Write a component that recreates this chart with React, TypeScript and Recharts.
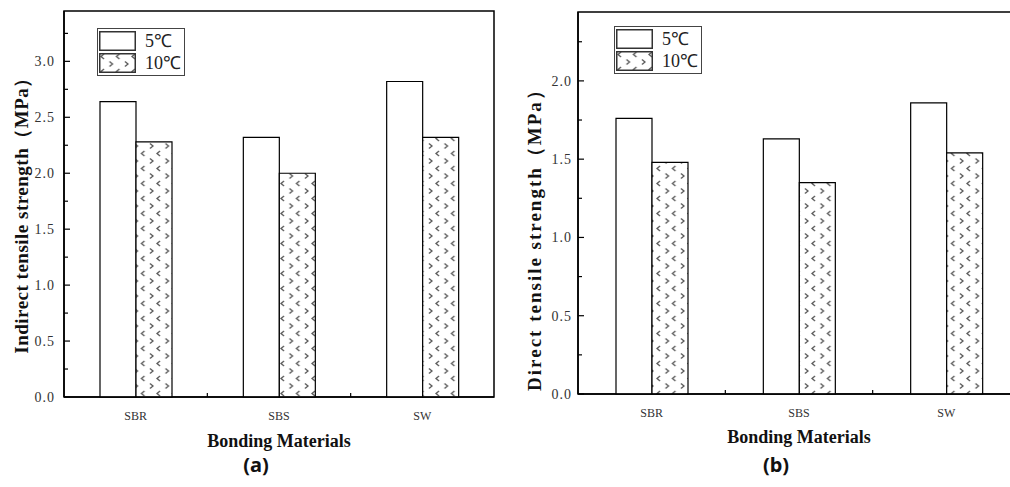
import React from 'react';
import { BarChart, Bar, XAxis, YAxis, Legend, ReferenceArea, Label } from 'recharts';

const categories = ['SBR', 'SBS', 'SW'];
const seriesNames = ['5℃', '10℃'];
const indirect5 = [2.64, 2.32, 2.82];
const indirect10 = [2.28, 2.0, 2.32];
const direct5 = [1.76, 1.63, 1.86];
const direct10 = [1.48, 1.35, 1.54];
const ticksA = [0, 0.25, 0.5, 0.75, 1.0, 1.25, 1.5, 1.75, 2.0, 2.25, 2.5, 2.75, 3.0, 3.25];
const ticksB = [0, 0.25, 0.5, 0.75, 1.0, 1.25, 1.5, 1.75, 2.0, 2.25];
const maxA = 3.45;
const maxB = 2.44;

const dataA = categories.map((name, i) => ({ name, t5: indirect5[i], t10: indirect10[i] }));
const dataB = categories.map((name, i) => ({ name, t5: direct5[i], t10: direct10[i] }));

const SERIF = '"Liberation Serif", "Times New Roman", serif';
const TICKFONT = '"Liberation Serif", serif';

const PatternDef = ({ id }: { id: string }) => (
  <pattern id={id} patternUnits="userSpaceOnUse" width={15.5} height={15} x={0} y={0}>
    <rect x={0} y={0} width={15.5} height={15} fill="#fff" />
    <polyline points="5,1 2,3.5 5,6" fill="none" stroke="#555" strokeWidth={1.3} />
    <polyline points="10.5,8.5 13.5,11 10.5,13.5" fill="none" stroke="#555" strokeWidth={1.3} />
  </pattern>
);

const makeYTick = (margin: number) => (props: any) => {
  const { x, y, payload } = props;
  const v = Number(payload.value);
  const major = Math.abs(v * 2 - Math.round(v * 2)) < 1e-6;
  const ax = x + margin;
  return (
    <g>
      <line x1={ax} x2={ax + (major ? 6 : 4)} y1={y} y2={y} stroke="#000" strokeWidth={1.2} />
      {major && (
        <text x={x} y={y} dy="0.36em" textAnchor="end" fontFamily={TICKFONT} fontSize={14} fill="#333" letterSpacing={1}>
          {v.toFixed(1)}
        </text>
      )}
    </g>
  );
};

const makeXTick = (margin: number) => (props: any) => {
  const { x, y, payload, index, width, visibleTicksCount } = props;
  const n = visibleTicksCount || categories.length;
  const band = Number(width) / n;
  const ay = y - margin;
  const xb = x + band / 2;
  return (
    <g>
      {index < n - 1 && <line x1={xb} x2={xb} y1={ay} y2={ay - 4} stroke="#000" strokeWidth={1.2} />}
      <text x={x} y={y} dy="0.71em" textAnchor="middle" fontFamily={TICKFONT} fontSize={12} fill="#333">
        {payload.value}
      </text>
    </g>
  );
};

const LegendBox = ({ pid, textLeft }: { pid: string; textLeft: number }) => (
  <div style={{ border: '1.5px solid #444', padding: '2px 3px 2px 1px', background: '#fff', display: 'inline-block', lineHeight: 1 }}>
    {seriesNames.map((s, i) => (
      <div key={s} style={{ display: 'flex', alignItems: 'center', height: 20, marginBottom: i === 0 ? 1.5 : 0 }}>
        <svg width={37} height={20} style={{ display: 'block' }}>
          {i === 1 && (
            <defs>
              <PatternDef id={pid} />
            </defs>
          )}
          <rect x={0.75} y={0.75} width={35.5} height={18.5} fill={i === 0 ? '#fff' : `url(#${pid})`} stroke="#333" strokeWidth={1.5} />
        </svg>
        <span style={{ marginLeft: textLeft, fontFamily: SERIF, fontSize: 18, color: '#222' }}>{s}</span>
      </div>
    ))}
  </div>
);

const yTitle = (text: string, bx: number, cy: number, ls: number) => (props: any) => {
  const vb = props.viewBox;
  const x = vb.x + bx;
  const y = vb.y + vb.height / 2 + cy;
  return (
    <text x={x} y={y} transform={`rotate(-90, ${x}, ${y})`} textAnchor="middle" fontFamily={SERIF} fontWeight="bold" fontSize={19} letterSpacing={ls} fill="#111">
      {text}
    </text>
  );
};

const xTitle = (caption: string, dy: number, capDy: number) => (props: any) => {
  const vb = props.viewBox;
  const cx = vb.x + vb.width / 2;
  return (
    <g>
      <text x={cx} y={vb.y + dy} textAnchor="middle" fontFamily={SERIF} fontWeight="bold" fontSize={18} fill="#111">
        Bonding Materials
      </text>
      <text x={cx - 23} y={vb.y + capDy} textAnchor="middle" fontFamily='"Noto Sans", sans-serif' fontWeight="bold" fontSize={20} fill="#111">
        {caption}
      </text>
    </g>
  );
};

const Panel = ({ data, pid, max, ticks, yLabel, caption, width, margin, yWidth, xHeight, tickMargin, legendPos, textLeft, ylx, yly, yls, xdy, capdy }: any) => (
  <BarChart width={width} height={487} data={data} margin={margin} barGap={0} barSize={36}>
    <defs>
      <PatternDef id={pid} />
    </defs>
    <XAxis
      dataKey="name"
      height={xHeight}
      tickLine={false}
      tickSize={0}
      tickMargin={14}
      interval={0}
      axisLine={{ stroke: '#000', strokeWidth: 1.5 }}
      tick={makeXTick(14)}
    >
      <Label content={xTitle(caption, xdy, capdy)} />
    </XAxis>
    <YAxis
      type="number"
      domain={[0, max]}
      ticks={ticks}
      interval={0}
      width={yWidth}
      tickLine={false}
      tickSize={0}
      tickMargin={tickMargin}
      axisLine={{ stroke: '#000', strokeWidth: 1.5 }}
      tick={makeYTick(tickMargin)}
    >
      <Label content={yTitle(yLabel, ylx, yly, yls)} />
    </YAxis>
    <Legend
      layout="vertical"
      align="center"
      verticalAlign="middle"
      wrapperStyle={{ left: legendPos[0], top: legendPos[1], width: 'auto', height: 'auto' }}
      content={() => <LegendBox pid={pid + 'L'} textLeft={textLeft} />}
    />
    <Bar dataKey="t5" name={seriesNames[0]} fill="#fff" stroke="#000" strokeWidth={1.2} isAnimationActive={false} />
    <Bar dataKey="t10" name={seriesNames[1]} fill={`url(#${pid})`} stroke="#000" strokeWidth={1.2} isAnimationActive={false} />
    <ReferenceArea y1={0} y2={max} fill="none" stroke="#000" strokeWidth={1.5} />
  </BarChart>
);

export default function App() {
  return (
    <div style={{ position: 'absolute', left: 0, top: 0, width: 1010, height: 487, overflow: 'hidden', background: '#fff' }}>
      <div style={{ position: 'absolute', left: 0, top: 0 }}>
        <Panel
          data={dataA}
          pid="patA"
          max={maxA}
          ticks={ticksA}
          yLabel="Indirect tensile strength（MPa）"
          caption="(a)"
          width={500}
          margin={{ top: 11, right: 6, bottom: 0, left: 0 }}
          yWidth={64}
          xHeight={90}
          tickMargin={9}
          legendPos={[97, 28]}
          textLeft={9}
          ylx={28}
          yly={7}
          yls={0.5}
          xdy={50}
          capdy={75}
        />
      </div>
      <div style={{ position: 'absolute', left: 500, top: 0 }}>
        <Panel
          data={dataB}
          pid="patB"
          max={maxB}
          ticks={ticksB}
          yLabel="Direct tensile strength（MPa）"
          caption="(b)"
          width={530}
          margin={{ top: 12, right: 10, bottom: 0, left: 0 }}
          yWidth={78}
          xHeight={93}
          tickMargin={6}
          legendPos={[114, 26]}
          textLeft={9}
          ylx={41}
          yly={32}
          yls={2}
          xdy={49}
          capdy={78}
        />
      </div>
    </div>
  );
}
